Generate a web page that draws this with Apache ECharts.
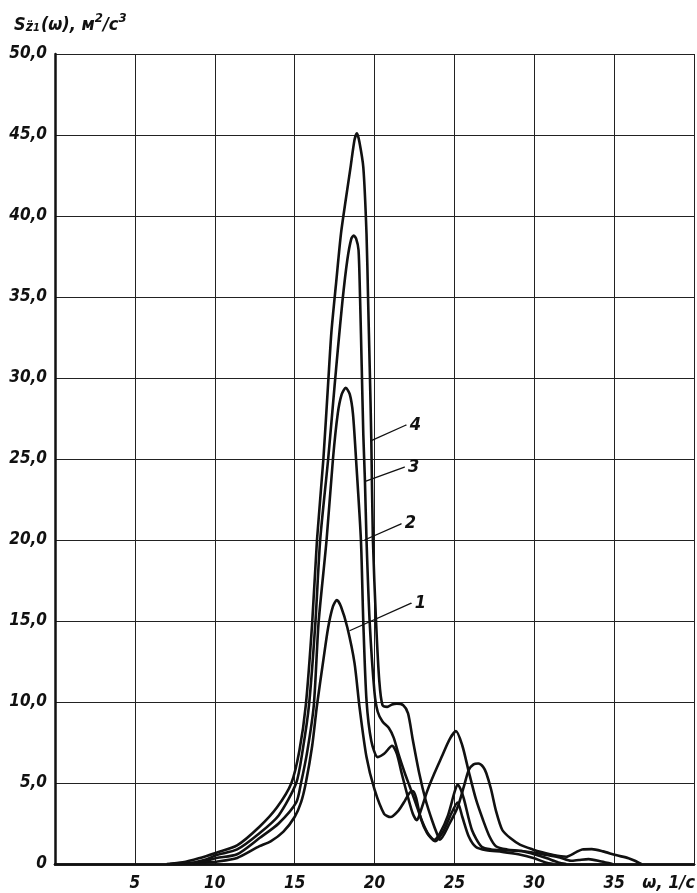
<!DOCTYPE html>
<html>
<head>
<meta charset="utf-8">
<script src="https://cdn.jsdelivr.net/npm/echarts@6/dist/echarts.min.js"></script>
<style>
html,body{margin:0;padding:0;background:#fff;}
#chart{width:697px;height:893px;}
</style>
</head>
<body>
<div id="chart"></div>
<script>
// ---- data ----
const xTicks = [0, 5, 10, 15, 20, 25, 30, 35, 40];
const yTicks = [0, 5, 10, 15, 20, 25, 30, 35, 40, 45, 50];

const omega1 = [7.4, 8.5, 9.5, 10.1, 11.4, 12.8, 13.5, 14.3, 15.0, 15.4, 15.7, 16.1, 16.4, 16.8, 17.1, 17.4, 17.64, 17.9, 18.3, 18.75, 19.06, 19.5, 20.0, 20.6, 21.0, 21.5, 21.9, 22.2, 22.4, 22.6, 22.9, 23.3, 23.8, 24.3, 24.8, 25.2, 25.5, 25.9, 26.35, 27.0, 28.0, 29.0, 30.0, 30.7, 31.2];
const s1     = [0, 0.03, 0.1, 0.14, 0.37, 1.1, 1.4, 2.0, 2.9, 3.8, 5.0, 7.3, 9.8, 12.6, 14.6, 15.9, 16.3, 15.9, 14.6, 12.4, 9.7, 6.6, 4.6, 3.1, 2.9, 3.3, 3.9, 4.4, 4.5, 4.1, 2.8, 1.9, 1.4, 2.0, 3.1, 3.8, 2.9, 1.7, 1.05, 0.85, 0.75, 0.6, 0.35, 0.1, 0];

const omega2 = [7.3, 8.5, 9.5, 10.1, 11.4, 12.8, 14.0, 15.1, 15.4, 15.8, 16.2, 16.5, 17.0, 17.4, 17.7, 17.95, 18.2, 18.45, 18.65, 18.85, 19.15, 19.3, 19.5, 19.8, 20.2, 20.6, 21.1, 21.4, 21.7, 22.1, 22.4, 22.65, 22.9, 23.3, 23.75, 24.2, 24.7, 25.1, 25.5, 25.9, 26.35, 26.8, 27.2, 27.6, 28.3, 29.2, 30.0, 30.8, 31.5, 32.0];
const s2     = [0, 0.05, 0.2, 0.37, 0.6, 1.6, 2.5, 3.8, 5.0, 7.0, 9.8, 14.9, 20.0, 25.0, 27.8, 29.0, 29.4, 29.0, 27.8, 24.9, 20.0, 14.9, 10.1, 7.6, 6.6, 6.8, 7.3, 6.8, 5.6, 4.1, 3.1, 2.7, 3.3, 4.5, 5.6, 6.6, 7.7, 8.2, 7.3, 5.7, 4.0, 2.7, 1.7, 1.1, 0.9, 0.8, 0.6, 0.35, 0.1, 0];

const omega3 = [7.2, 8.5, 9.5, 10.1, 11.4, 12.8, 14.0, 15.1, 15.5, 15.9, 16.3, 16.6, 17.1, 17.5, 17.7, 18.0, 18.3, 18.55, 18.7, 18.85, 19.0, 19.1, 19.2, 19.3, 19.4, 19.5, 19.7, 20.0, 20.2, 20.5, 20.9, 21.2, 21.5, 21.9, 22.2, 22.6, 23.0, 23.4, 23.75, 24.1, 24.6, 25.0, 25.2, 25.4, 25.6, 26.1, 26.7, 27.3, 28.2, 29.2, 30.0, 30.8, 31.6, 32.3, 32.8, 33.4, 34.2, 34.9];
const s3     = [0, 0.07, 0.3, 0.55, 0.9, 1.9, 3.0, 5.0, 7.0, 9.8, 14.9, 20.0, 25.0, 29.5, 31.7, 34.8, 37.3, 38.6, 38.8, 38.6, 37.9, 34.8, 30.7, 26.5, 23.7, 20.0, 14.9, 10.6, 9.4, 8.8, 8.4, 7.8, 6.8, 5.6, 4.8, 3.7, 2.6, 1.8, 1.5, 1.9, 3.0, 4.4, 4.9, 4.6, 4.0, 2.1, 1.07, 0.9, 0.85, 0.8, 0.7, 0.55, 0.4, 0.2, 0.25, 0.3, 0.15, 0];

const omega4 = [7.0, 8.0, 9.0, 10.1, 11.4, 12.8, 13.9, 14.8, 15.3, 15.7, 16.1, 16.4, 16.8, 17.1, 17.3, 17.6, 17.9, 18.2, 18.5, 18.75, 18.9, 19.05, 19.3, 19.5, 19.6, 19.7, 19.8, 19.9, 20.1, 20.3, 20.5, 20.8, 21.1, 21.4, 21.8, 22.1, 22.4, 22.8, 23.2, 23.6, 23.9, 24.1, 24.7, 25.2, 25.6, 25.9, 26.2, 26.5, 26.8, 27.0, 27.3, 27.6, 28.0, 28.5, 29.1, 29.9, 30.5, 31.2, 32.0, 32.6, 33.0, 33.6, 34.3, 35.1, 35.9, 36.3, 36.7];
const s4     = [0, 0.1, 0.35, 0.7, 1.15, 2.3, 3.5, 5.0, 7.0, 9.8, 14.9, 20.0, 25.0, 29.7, 32.8, 35.9, 38.9, 41.0, 43.0, 44.7, 45.1, 44.6, 43.0, 38.9, 34.8, 30.7, 26.2, 20.0, 14.9, 11.3, 9.8, 9.7, 9.85, 9.9, 9.8, 9.3, 7.65, 5.6, 3.95, 2.7, 1.9, 1.5, 2.5, 3.5, 4.8, 5.8, 6.15, 6.2, 6.0, 5.6, 4.6, 3.3, 2.1, 1.6, 1.2, 0.9, 0.72, 0.55, 0.45, 0.72, 0.9, 0.92, 0.78, 0.55, 0.36, 0.2, 0];

// curve labels and leader lines (data coordinates)
const curveNames   = ['1', '2', '3', '4'];
const leaderFrom   = [[18.44, 14.4], [19.375, 20.0], [19.375, 23.6], [19.73, 26.1]];
const leaderTo     = [[22.3, 16.1], [21.67, 21.0], [21.875, 24.5], [21.98, 27.1]];

// ---- chart ----
const FONT = "'DejaVu Sans Condensed', 'DejaVu Sans', sans-serif";
const pair = (xs, ys) => xs.map((x, i) => [x, ys[i]]);
const curves = [pair(omega1, s1), pair(omega2, s2), pair(omega3, s3), pair(omega4, s4)];

const chart = echarts.init(document.getElementById('chart'), null, {renderer: 'canvas'});

const labelStyle = {
  color: '#111', fontFamily: FONT, fontStyle: 'italic', fontWeight: 'bold', fontSize: 17
};

const series = curves.map((d, i) => ({
  type: 'line',
  name: curveNames[i],
  data: d,
  showSymbol: false,
  smooth: 0.25,
  lineStyle: {color: '#111', width: 2.6},
  z: 3,
  animation: false
}));

leaderFrom.forEach((p, i) => {
  series.push({
    type: 'line',
    data: [
      {value: p, symbolSize: 0.01},
      {value: leaderTo[i], symbolSize: 1,
       label: {show: true, position: 'right', distance: 3, formatter: curveNames[i], ...labelStyle, fontSize: 18}}
    ],
    showSymbol: true,
    symbol: 'circle',
    itemStyle: {color: '#111'},
    lineStyle: {color: '#111', width: 1.3},
    z: 4,
    animation: false
  });
});

const option = {
  animation: false,
  backgroundColor: '#fff',
  grid: {left: 55, right: 2, top: 54, bottom: 29},
  xAxis: [{
    type: 'value', min: 0, max: 40, interval: 5,
    axisLine: {show: true, onZero: false, lineStyle: {color: '#111', width: 2.5}},
    axisTick: {show: false},
    splitLine: {show: true, lineStyle: {color: '#222', width: 1}},
    axisLabel: {
      margin: 11, ...labelStyle,
      formatter: v => (v === 0 || v === 40) ? '' : String(v)
    }
  }, {
    type: 'value', min: 0, max: 40, position: 'top',
    axisLine: {show: true, lineStyle: {color: '#111', width: 2.5}},
    axisTick: {show: false}, axisLabel: {show: false}, splitLine: {show: false}
  }],
  yAxis: {
    type: 'value', min: 0, max: 50, interval: 5,
    axisLine: {show: true, lineStyle: {color: '#111', width: 2.5}},
    axisTick: {show: false},
    splitLine: {show: true, lineStyle: {color: '#222', width: 1}},
    axisLabel: {
      margin: 8, ...labelStyle,
      formatter: v => v === 0 ? '0' : v.toFixed(1).replace('.', ',')
    }
  },
  graphic: [{
    type: 'text', left: 14, top: 12,
    style: {
      text: '{a|S}{sub|z\u0308}{sub1|1}{a|(ω), м}{sup|2}{a|/с}{sup|3}',
      rich: {
        a: {fontFamily: FONT, fontStyle: 'italic', fontWeight: 'bold', fontSize: 18, fill: '#111', verticalAlign: 'bottom'},
        sub: {fontFamily: FONT, fontStyle: 'italic', fontWeight: 'bold', fontSize: 14, fill: '#111', padding: [8, 0, 0, 0], verticalAlign: 'bottom'},
        sub1: {fontFamily: FONT, fontStyle: 'italic', fontWeight: 'bold', fontSize: 11, fill: '#111', padding: [10, 1, 0, 0], verticalAlign: 'bottom'},
        sup: {fontFamily: FONT, fontStyle: 'italic', fontWeight: 'bold', fontSize: 13, fill: '#111', padding: [0, 0, 8, 0], verticalAlign: 'top'}
      }
    }
  }, {
    type: 'text', right: 2, top: 874,
    style: {text: 'ω, 1/с', fontFamily: FONT, fontStyle: 'italic', fontWeight: 'bold', fontSize: 18, fill: '#111'}
  }],
  series: series
};
chart.setOption(option);
</script>
</body>
</html>
